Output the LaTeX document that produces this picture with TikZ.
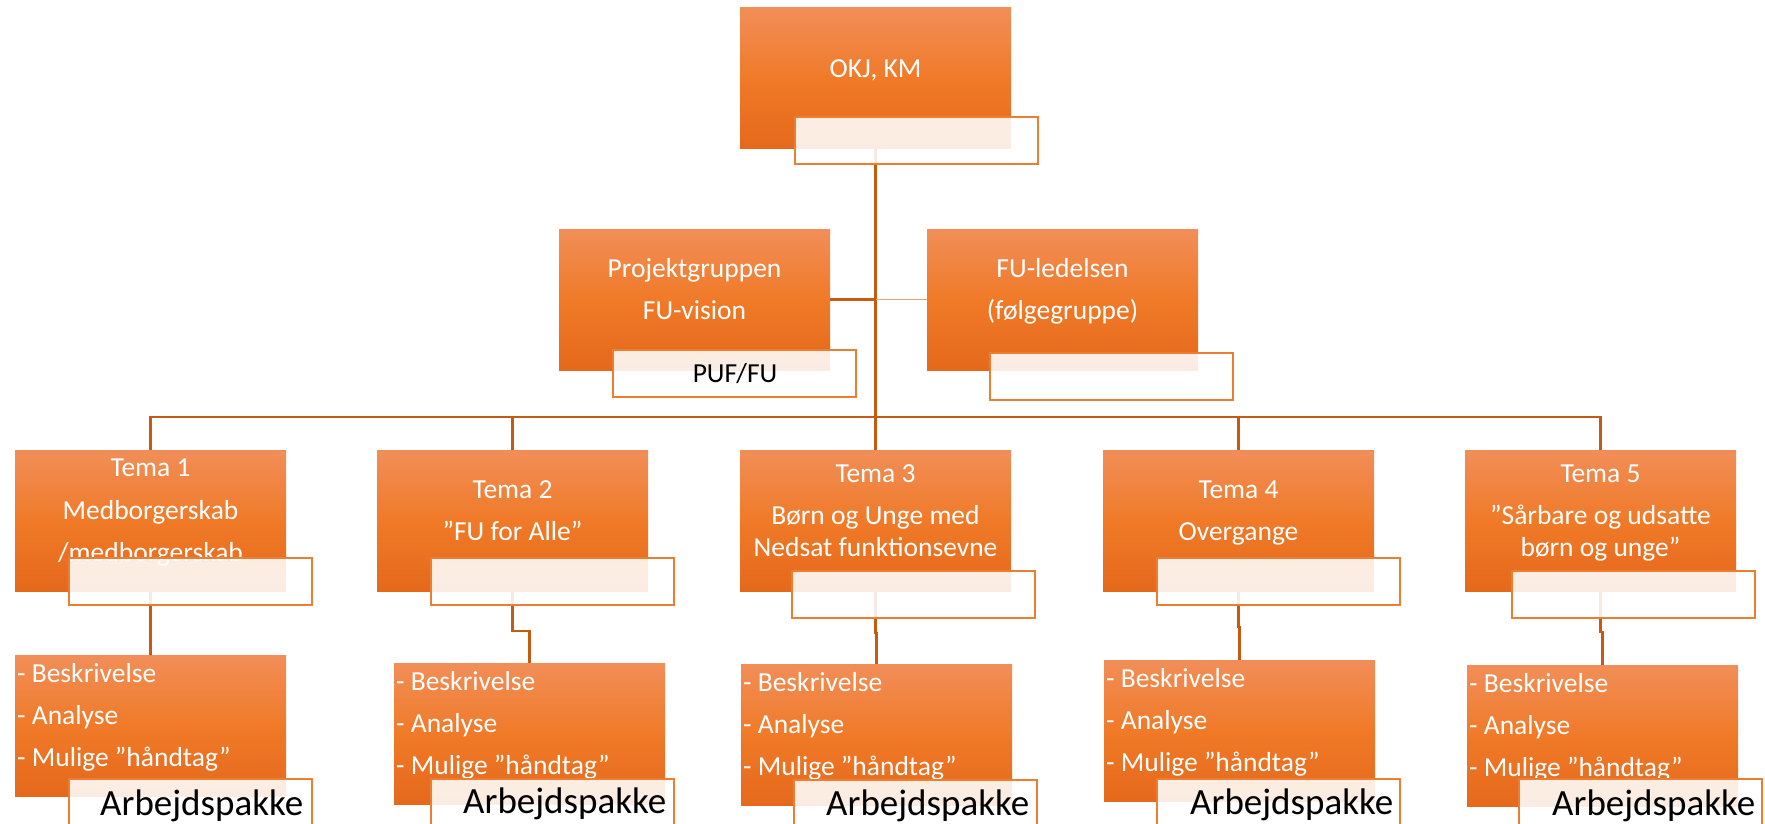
\documentclass[tikz,border=0pt]{standalone}
\usepackage{fontspec}
\setmainfont{Carlito}
\definecolor{okTop}{RGB}{241,142,88}
\definecolor{okMid}{RGB}{240,122,40}
\definecolor{okBot}{RGB}{229,105,27}
\definecolor{conn}{RGB}{197,90,17}
\definecolor{connLight}{RGB}{236,160,110}
\definecolor{lblBorder}{RGB}{237,125,49}
\pgfdeclarelayer{background}
\pgfsetlayers{background,main}
\begin{document}
\begin{tikzpicture}[x=1pt,y=-1pt,
  obox/.style={rectangle, top color=okTop, bottom color=okBot, middle color=okMid, minimum width=271pt, minimum height=141pt, inner sep=0pt, outer sep=0pt, anchor=north west},
  lbox/.style={rectangle, draw=lblBorder, line width=1.6pt, fill=white, fill opacity=0.88, minimum width=243pt, minimum height=47pt, inner sep=0pt, outer sep=0pt, anchor=north west},
  wtxt/.style={text=white, font=\fontsize{27.5}{33}\selectfont, inner sep=0pt, anchor=base},
  ltxt/.style={text=white, font=\fontsize{27.5}{33}\selectfont, inner sep=0pt, anchor=base west},
  btxt/.style={text=black, font=\fontsize{27.5}{33}\selectfont, inner sep=0pt, anchor=base},
  atxt/.style={text=black, font=\fontsize{37}{44}\selectfont, inner sep=0pt, anchor=base west},
  link/.style={draw=conn, line width=2.2pt},
  linklight/.style={draw=connLight, line width=1.6pt},
]
\useasboundingbox (0,0) rectangle (1765,824);

\coordinate (bus) at (875.5,417);

% ---------- orange boxes ----------
\node[obox] (okj) at (740,8) {};
\node[obox] (pg) at (559,229) {};
\node[obox] (fu) at (927,229) {};
\node[obox] (t1) at (15,450) {};
\node[obox] (t2) at (377,450) {};
\node[obox] (t3) at (740,450) {};
\node[obox] (t4) at (1103,450) {};
\node[obox] (t5) at (1465,450) {};
\node[obox] (w1) at (15,655) {};
\node[obox] (w2) at (394,663) {};
\node[obox] (w3) at (741,664) {};
\node[obox] (w4) at (1104,660) {};
\node[obox] (w5) at (1467,665) {};

% ---------- connectors (behind the boxes) ----------
\begin{pgfonlayer}{background}
\draw[link] (okj.south) -- (t3.north);
\draw[link] (pg.east) -- (pg.east -| okj.south);
\draw[linklight] (fu.west) -- (fu.west -| okj.south);
\draw[link] (bus) -| (t1.north);
\draw[link] (bus) -| (t2.north);
\draw[link] (bus) -| (t4.north);
\draw[link] (bus) -| (t5.north);
\draw[link] (t1.south) -- (w1.north);
\draw[link] (t2.south) -- ++(0,40) -| (w2.north);
\draw[link] (t3.south) -- ++(0,42) -| (w3.north);
\draw[link] (t4.south) -- ++(0,36) -| (w4.north);
\draw[link] (t5.south) -- ++(0,41) -| (w5.north);
\end{pgfonlayer}

% ---------- texts in orange boxes ----------
\node[wtxt] (okjT) at (875.5,78) {OKJ, KM};
\node[wtxt] (pgT1) at (694.5,277) {Projektgruppen};
\node[wtxt] (pgT2) at (694.5,319) {FU-vision};
\node[wtxt] (fuT1) at (1062.5,277) {FU-ledelsen};
\node[wtxt] (fuT2) at (1062.5,319) {(følgegruppe)};

\node[wtxt] (t1T1) at (150.5,476) {Tema 1};
\node[wtxt] (t1T2) at (150.5,519) {Medborgerskab};
\node[wtxt] (t1T3) at (150.5,561) {/medborgerskab};
\node[wtxt] (t2T1) at (512.5,498) {Tema 2};
\node[wtxt] (t2T2) at (512.5,540) {”FU for Alle”};
\node[wtxt] (t3T1) at (875.5,482) {Tema 3};
\node[wtxt] (t3T2) at (875.5,524) {Børn og Unge med};
\node[wtxt] (t3T3) at (875.5,556) {Nedsat funktionsevne};
\node[wtxt] (t4T1) at (1238.5,498) {Tema 4};
\node[wtxt] (t4T2) at (1238.5,540) {Overgange};
\node[wtxt] (t5T1) at (1600.5,482) {Tema 5};
\node[wtxt] (t5T2) at (1600.5,524) {”Sårbare og udsatte};
\node[wtxt] (t5T3) at (1600.5,556) {børn og unge”};

\foreach \b/\x/\y in {w1/17/655, w2/396/663, w3/743/664, w4/1106/660, w5/1469/665}{
  \node[ltxt] (\b L1) at (\x,\y+27) {- Beskrivelse};
  \node[ltxt] (\b L2) at (\x,\y+69) {- Analyse};
  \node[ltxt] (\b L3) at (\x,\y+111) {- Mulige ”håndtag”};
}

% ---------- label boxes ----------
\node[lbox] (okjL) at (795,117) {};
\node[lbox] (pgL) at (613,350) {};
\node[lbox] (fuL) at (990,353) {};
\node[lbox] (t1L) at (69,558) {};
\node[lbox] (t2L) at (431,558) {};
\node[lbox] (t3L) at (792,571) {};
\node[lbox] (t4L) at (1157,558) {};
\node[lbox] (t5L) at (1512,571) {};
\node[lbox] (w1L) at (69,779) {};
\node[lbox] (w2L) at (431,779) {};
\node[lbox] (w3L) at (794,780) {};
\node[lbox] (w4L) at (1157,779) {};
\node[lbox] (w5L) at (1519,779) {};

\node[btxt] (pufT) at (735,382) {PUF/FU};
\node[atxt] (w1A) at (100,815) {Arbejdspakke};
\node[atxt] (w2A) at (463,813) {Arbejdspakke};
\node[atxt] (w3A) at (826,815) {Arbejdspakke};
\node[atxt] (w4A) at (1190,814) {Arbejdspakke};
\node[atxt] (w5A) at (1552,815) {Arbejdspakke};
\end{tikzpicture}
\end{document}
